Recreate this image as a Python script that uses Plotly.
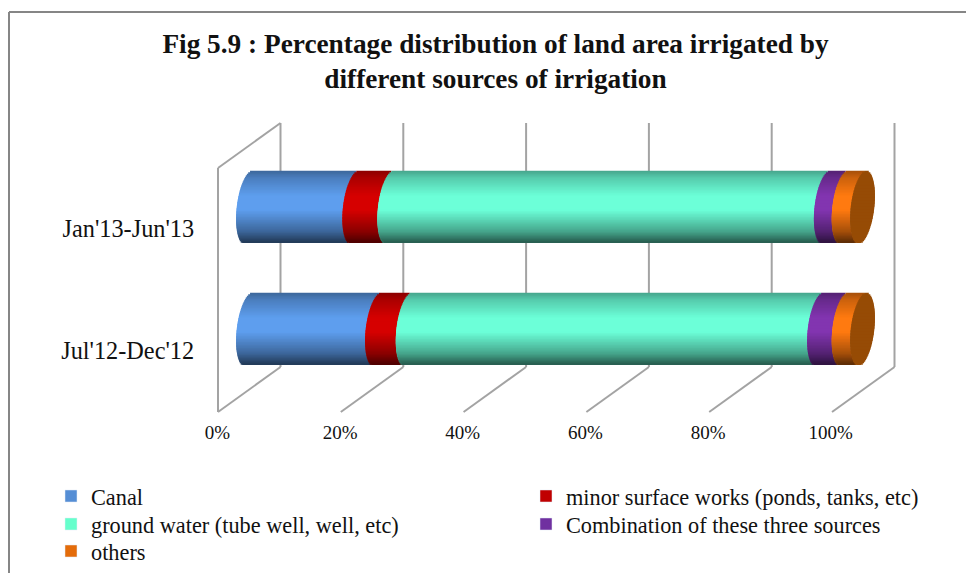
import plotly.graph_objects as go
import numpy as np

categories = ["Jul'12-Dec'12", "Jan'13-Jun'13"]
series_names = ["Canal", "minor surface works (ponds, tanks, etc)",
                "ground water (tube well, well, etc)",
                "Combination of these three sources", "others"]
canal = [21.0, 17.3]
minor = [5.0, 5.7]
ground = [67.0, 71.1]
combo = [4.0, 2.9]
others = [3.0, 3.0]
tick_vals = [0, 20, 40, 60, 80, 100]
tick_text = ["0%", "20%", "40%", "60%", "80%", "100%"]

W, H = 966, 573
series = [canal, minor, ground, combo, others]
peak = ["#5e9eee", "#d60000", "#6cffd8", "#8235b0", "#ff7a10"]
swatch = ["#558ed5", "#c00000", "#66ffcc", "#7030a0", "#e46c0a"]
legend_ids = ["legend", "legend2", "legend3", "legend4", "legend5"]
legend_x = [51, 526, 51, 526, 51]
legend_top = [475, 475, 503, 503, 530]
cap_col = "#964b05"

# pixel geometry
PX0, PX100 = 248.5, 862.5
sc = (PX100 - PX0) / 100
xr = [-8.0, 107.0]
def px(v): return PX0 + v * sc
ytop, ybot = 123.0, 412.0
unit = 122.0
half = 35.75 / unit
ROUND, TILT = 11.7 / sc, 4.0 / sc
N = 48
OV = 2.0 / unit

def shade(col, f):
    r, g, b = int(col[1:3], 16), int(col[3:5], 16), int(col[5:7], 16)
    return "rgb(%d,%d,%d)" % (r * f, g * f, b * f)

def shade_f(u):
    return float(np.interp(u, [0, 0.1, 0.35, 0.55, 0.85, 1], [0.65, 0.8, 1.0, 1.0, 0.65, 0.36]))

fig = go.Figure()
edges = np.linspace(1, -1, N + 1)
arr = np.array(series)
cum = np.cumsum(arr, axis=0)
starts = cum - arr

def slice_geom(k):
    ov = OV if k < N - 1 else 0.0
    return float(edges[k + 1] * half - ov), float(2 * half / N + ov)

for i in range(len(series)):
    for k in range(N):
        t = (edges[k] + edges[k + 1]) / 2
        left = -ROUND * np.sqrt(1 - t * t) + TILT * t
        off, wd = slice_geom(k)
        fig.add_trace(go.Bar(
            y=categories, x=arr[i], base=starts[i] + left, orientation="h",
            offset=off, width=wd,
            marker=dict(color=shade(peak[i], shade_f((1 - t) / 2)), line=dict(width=0)),
            showlegend=False, hoverinfo="skip"))
for k in range(N):
    t = (edges[k] + edges[k + 1]) / 2
    r = np.sqrt(1 - t * t) * ROUND
    off, wd = slice_geom(k)
    fig.add_trace(go.Bar(
        y=categories, x=[2 * r] * 2, base=cum[-1] - r + TILT * t, orientation="h",
        offset=off, width=wd,
        marker=dict(color=cap_col, line=dict(width=0)),
        showlegend=False, hoverinfo="skip"))
for i, (name, c) in enumerate(zip(series_names, swatch)):
    fig.add_trace(go.Bar(y=[None], x=[None], name=name, orientation="h", legend=legend_ids[i],
                         marker=dict(color=c), hoverinfo="skip"))

# perspective grid
grid = dict(color="#a3a3a3", width=2)
BACK, FRONT = 32.0 / sc, -30.5 / sc
shapes = []
for v in tick_vals:
    shapes.append(dict(type="line", xref="x", yref="paper", layer="below", line=grid,
                       x0=v + BACK, x1=v + BACK, y0=1 - 123 / H, y1=1 - 367 / H))
    shapes.append(dict(type="line", xref="x", yref="paper", layer="below", line=grid,
                       x0=v + BACK, x1=v + FRONT, y0=1 - 367 / H, y1=1 - 412 / H))
shapes.append(dict(type="line", xref="x", yref="paper", layer="below", line=grid,
                   x0=FRONT, x1=FRONT, y0=1 - 412 / H, y1=1 - 168 / H))
shapes.append(dict(type="line", xref="x", yref="paper", layer="below", line=grid,
                   x0=FRONT, x1=BACK, y0=1 - 168 / H, y1=1 - 123 / H))
# frame
frame = dict(color="#868686", width=2)
shapes.append(dict(type="line", xref="paper", yref="paper", line=frame,
                   x0=9 / W, x1=9 / W, y0=0, y1=1 - 12 / H))
shapes.append(dict(type="line", xref="paper", yref="paper", line=frame,
                   x0=9 / W, x1=1, y0=1 - 12 / H, y1=1 - 12 / H))

serif = "Liberation Serif"
ink = "#111111"
leg = dict(orientation="v", yanchor="top", xanchor="left",
           itemwidth=30, font=dict(size=22.3, family=serif, color=ink), bgcolor="rgba(0,0,0,0)")
fig.update_layout(
    width=W, height=H, margin=dict(l=0, r=0, t=0, b=0, autoexpand=False),
    paper_bgcolor="white", plot_bgcolor="rgba(0,0,0,0)", barmode="overlay",
    font=dict(family=serif, color=ink),
    title=dict(text="<b>Fig 5.9 : Percentage distribution of land area irrigated by<br>different sources of irrigation</b>",
               x=495.5 / W, xanchor="center", y=1 - 53 / H, yanchor="top",
               font=dict(family=serif, size=27.3, color=ink)),
    shapes=shapes,
    xaxis=dict(domain=[px(xr[0]) / W, px(xr[1]) / W], range=xr, showgrid=False, zeroline=False,
               showticklabels=False, showline=False, ticks=""),
    yaxis=dict(domain=[1 - ybot / H, 1 - ytop / H], range=[-0.684, 1.684], type="category",
               categoryorder="array", categoryarray=categories,
               showgrid=False, showticklabels=False, ticks="", showline=False),
    xaxis2=dict(domain=[217.5 / W, 830.7 / W], range=[0, 100], anchor="free",
                position=1 - 412 / H, side="bottom", tickmode="array", tickvals=tick_vals, ticktext=tick_text,
                showgrid=False, zeroline=False, showline=False, ticks="outside", ticklen=3,
                tickcolor="rgba(0,0,0,0)", tickfont=dict(size=19, family=serif, color=ink)),
    yaxis2=dict(domain=[1 - (ybot + 22) / H, 1 - (ytop + 22) / H], range=[-0.684, 1.684],
                anchor="free", position=217 / W, side="left", tickmode="array", tickvals=[0, 1],
                ticktext=categories, showgrid=False, zeroline=False, showline=False, ticks="outside", ticklen=18,
                tickcolor="rgba(0,0,0,0)", tickfont=dict(size=24.3, family=serif, color=ink)),
)
for lid, lx, ly in zip(legend_ids, legend_x, legend_top):
    fig.update_layout({lid: dict(leg, x=lx / W, y=1 - ly / H)})
fig.add_trace(go.Scatter(x=[None], y=[None], xaxis="x2", yaxis="y2", showlegend=False, hoverinfo="skip"))
fig.write_html("out.html", config={"displayModeBar": False},
               post_script="document.body.style.margin='0';")
